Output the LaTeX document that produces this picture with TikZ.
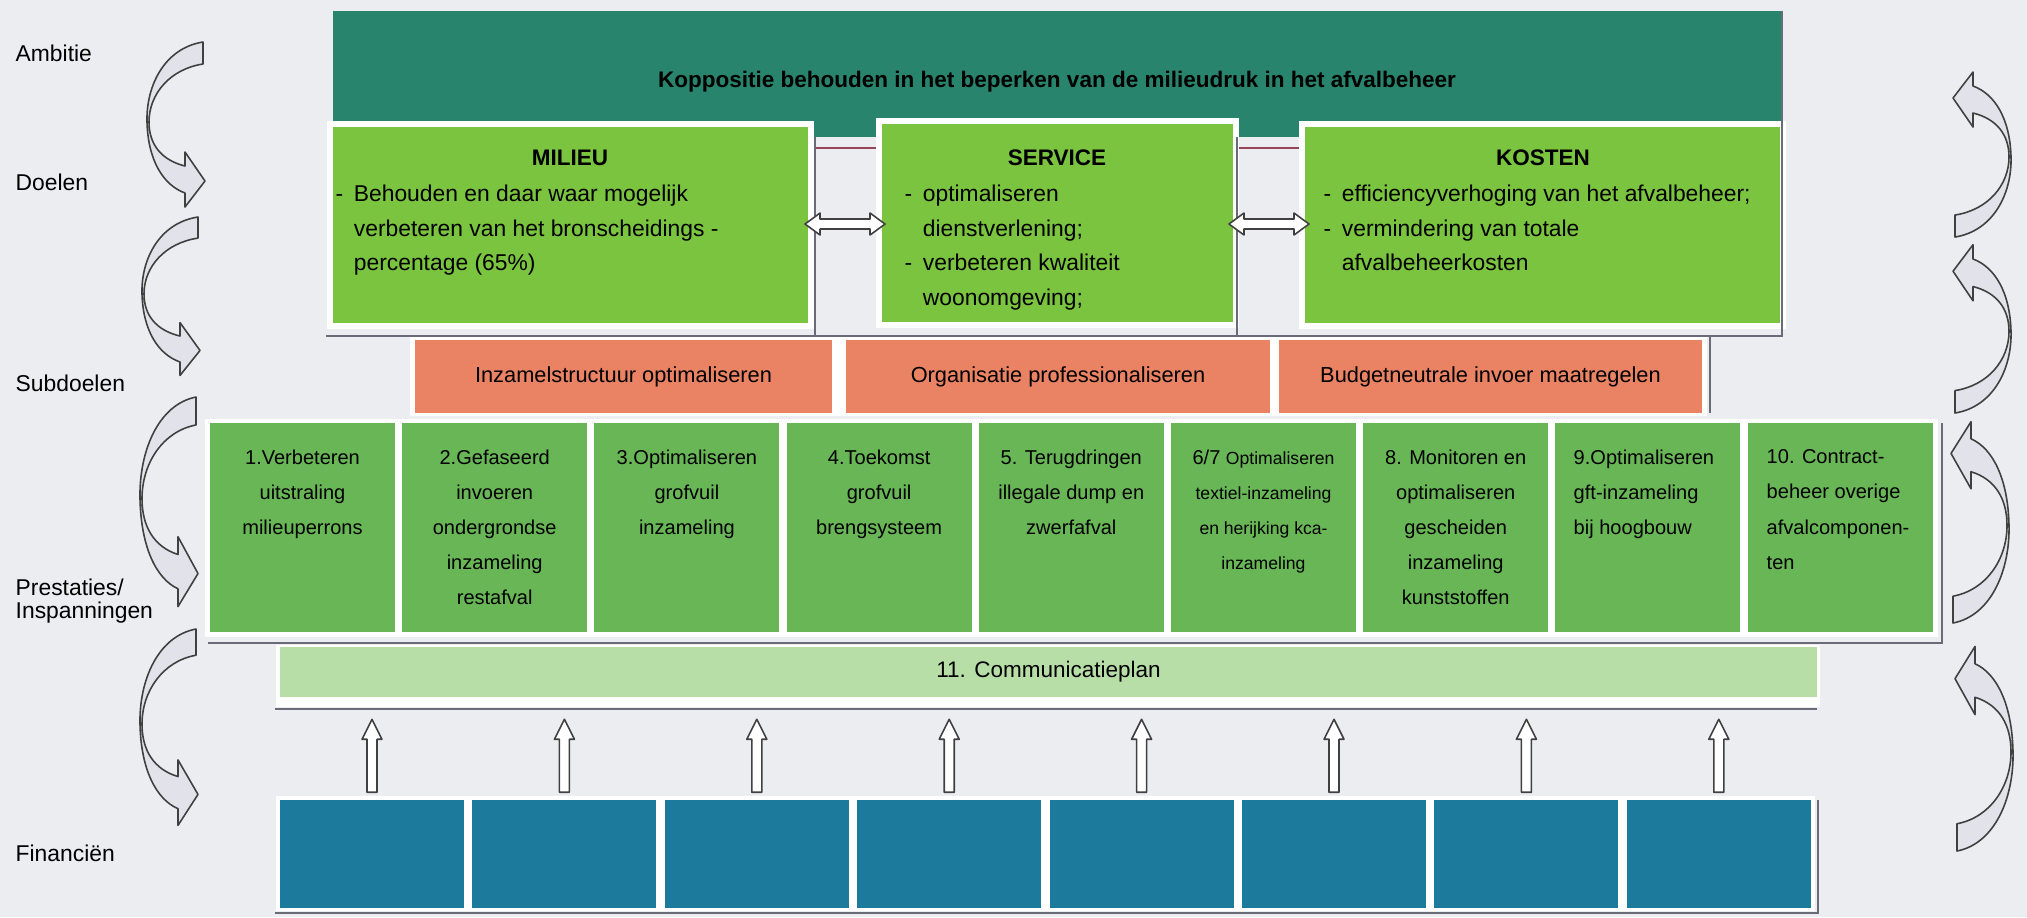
\documentclass[tikz,border=0pt]{standalone}
\usepackage{fontspec}
\setmainfont{Liberation Sans}
\usetikzlibrary{calc}

\definecolor{achtergrond}{RGB}{236,237,241}
\definecolor{ambteal}{RGB}{40,132,108}
\definecolor{doelgreen}{RGB}{122,196,64}
\definecolor{subred}{RGB}{234,130,100}
\definecolor{prestgreen}{RGB}{104,182,86}
\definecolor{commgreen}{RGB}{182,222,166}
\definecolor{finblue}{RGB}{28,122,156}
\definecolor{arrowfill}{RGB}{226,226,234}
\definecolor{framegrey}{RGB}{105,108,120}
\definecolor{maroonline}{RGB}{150,70,90}

\tikzset{
  ambbox/.style={fill=ambteal, inner sep=0pt},
  doelbox/.style={fill=doelgreen, draw=white, line width=0.06cm, inner sep=0pt},
  doeltitle/.style={inner sep=0pt, font=\bfseries\fontsize{6.4}{7}\selectfont},
  doeltext/.style={anchor=north west, inner sep=0pt, font=\fontsize{6.5}{9.8}\selectfont},
  subbox/.style={fill=subred, minimum height=0.73cm, inner sep=0pt, font=\fontsize{6.2}{7.4}\selectfont},
  prestbox/.style={fill=prestgreen, minimum width=1.85cm, minimum height=2.09cm, inner sep=0pt},
  presttext/.style={anchor=north, inner sep=0pt, align=center, font=\fontsize{5.7}{10}\selectfont},
  presttextl/.style={presttext, anchor=north west, align=left},
  commbox/.style={fill=commgreen, inner sep=0pt, font=\fontsize{6.4}{7.6}\selectfont},
  finbox/.style={fill=finblue, minimum width=1.84cm, minimum height=1.08cm, inner sep=0pt},
  sidelabel/.style={anchor=west, inner sep=0pt, align=left, font=\fontsize{6.5}{6.6}\selectfont},
  arrowline/.style={draw=black!75, fill=arrowfill, line width=0.45pt, line join=round},
  groupline/.style={draw=framegrey, line width=0.7pt},
  curvarr/.pic={
    \path[arrowline] (0,0) .. controls (-38,6) and (-57,43) .. (-56,80)
      .. controls (-55,118) and (-40,143) .. (-18,151) -- (-18,165) -- (2,139)
      -- (-18,110) -- (-18,124) .. controls (-42,118) and (-54,102) .. (-54,80)
      .. controls (-54,52) and (-33,27) .. (0,22) -- cycle;
  },
  uparr/.pic={
    \path[arrowline, fill=white] (-5,0) -- (-5,-53) -- (-10,-53) -- (0,-73)
      -- (10,-53) -- (5,-53) -- (5,0) -- cycle;
  },
  dblarr/.pic={
    \path[arrowline, fill=white] (-40,0) -- (-25,-11) -- (-25,-5) -- (25,-5)
      -- (25,-11) -- (40,0) -- (25,11) -- (25,5) -- (-25,5) -- (-25,11) -- cycle;
  }
}

\begin{document}
\begin{tikzpicture}[x=0.01cm, y=-0.01cm]
\fill[achtergrond] (0,0) rectangle (2027,917);
\useasboundingbox (0,0) rectangle (2027,917);

\fill[white] (410,336) rectangle (1707,416);
\fill[white] (205,419) rectangle (1938,637);
\fill[white] (276,645) rectangle (1820,707);
\fill[white] (276,796) rectangle (1815,911);

\node[ambbox, minimum width=14.49cm, minimum height=1.26cm] (ambitie) at (1057.5,74) {};
\node[inner sep=0pt, font=\bfseries\fontsize{6.4}{7}\selectfont] (ambtext) at (1057,82)
  {Koppositie behouden in het beperken van de milieudruk in het afvalbeheer};

\draw[maroonline, line width=0.8pt] (811,148) -- (1302,148);
\node[doelbox, minimum width=4.81cm, minimum height=2.02cm] (milieu) at (570.5,225) {};
\node[doelbox, minimum width=3.57cm, minimum height=2.04cm] (service) at (1057.5,223) {};
\node[doelbox, minimum width=4.81cm, minimum height=2.02cm] (kosten) at (1542.5,225) {};
\draw[groupline] (815,137) -- (815,336);
\draw[groupline] (1237,137) -- (1237,336);
\draw[groupline] (326,336) -- (1782,336) -- (1782,11);
\draw[groupline] (1710,336) -- (1710,413);

\node[doeltitle] (milieuT) at (570,158) {MILIEU};
\node[doeltitle] (serviceT) at (1057,158) {SERVICE};
\node[doeltitle] (kostenT) at (1543,158) {KOSTEN};
\node[doeltext] (milieuB) at (335,177) {\begin{tabular}{@{}l@{\hspace{3pt}}l@{}}
  - & Behouden en daar waar mogelijk\\
    & verbeteren van het bronscheidings -\\
    & percentage (65\%)\end{tabular}};
\node[doeltext] (serviceB) at (904,177) {\begin{tabular}{@{}l@{\hspace{3pt}}l@{}}
  - & optimaliseren\\
    & dienstverlening;\\
  - & verbeteren kwaliteit\\
    & woonomgeving;\end{tabular}};
\node[doeltext] (kostenB) at (1323,177) {\begin{tabular}{@{}l@{\hspace{3pt}}l@{}}
  - & efficiencyverhoging van het afvalbeheer;\\
  - & vermindering van totale\\
    & afvalbeheerkosten\end{tabular}};

\pic at ($(milieu.east)!.5!(service.west)$) {dblarr};
\pic at ($(service.east)!.5!(kosten.west)$) {dblarr};

\node[subbox, minimum width=4.17cm] (sub1) at (623.5,376.5) {Inzamelstructuur optimaliseren};
\node[subbox, minimum width=4.24cm] (sub2) at (1058,376.5) {Organisatie professionaliseren};
\node[subbox, minimum width=4.23cm] (sub3) at (1490.5,376.5) {Budgetneutrale invoer maatregelen};

\node[prestbox] (p1) at (302.5,527.5) {};
\node[prestbox] (p2) at (494.7,527.5) {};
\node[prestbox] (p3) at (686.9,527.5) {};
\node[prestbox] (p4) at (879.1,527.5) {};
\node[prestbox] (p5) at (1071.3,527.5) {};
\node[prestbox] (p6) at (1263.5,527.5) {};
\node[prestbox] (p8) at (1455.7,527.5) {};
\node[prestbox] (p9) at (1647.9,527.5) {};
\node[prestbox] (p10) at (1840.1,527.5) {};
\draw[groupline] (208,643) -- (1942,643) -- (1942,423);

\node[presttext] (p1t) at (302.5,449) {1.Verbeteren\\uitstraling\\milieuperrons};
\node[presttext] (p2t) at (494.7,449) {2.Gefaseerd\\invoeren\\ondergrondse\\inzameling\\restafval};
\node[presttext] (p3t) at (686.9,449) {3.Optimaliseren\\grofvuil\\inzameling};
\node[presttext] (p4t) at (879.1,449) {4.Toekomst\\grofvuil\\brengsysteem};
\node[presttext] (p5t) at (1071.3,449) {5. Terugdringen\\illegale dump en\\zwerfafval};
\node[presttext] (p6t) at (1263.5,449) {6/7 {\fontsize{5}{10}\selectfont Optimaliseren}\\
  {\fontsize{5}{10}\selectfont textiel-inzameling}\\{\fontsize{5}{10}\selectfont en herijking kca-}\\
  {\fontsize{5}{10}\selectfont inzameling}};
\node[presttext] (p8t) at (1455.7,449) {8. Monitoren en\\optimaliseren\\gescheiden\\inzameling\\kunststoffen};
\node[presttextl] (p9t) at (1573,449) {9.Optimaliseren\\gft-inzameling\\bij hoogbouw};
\node[presttextl] (p10t) at (1766,449) {10. Contract-\\beheer overige\\afvalcomponen-\\ten};

\node[commbox, minimum width=15.37cm, minimum height=0.5cm] (comm) at (1048.5,672) {11. Communicatieplan};
\draw[groupline] (275,709) -- (1817,709);

\node[finbox] (f1) at (372,854) {};
\node[finbox] (f2) at (564.4,854) {};
\node[finbox] (f3) at (756.8,854) {};
\node[finbox] (f4) at (949.2,854) {};
\node[finbox] (f5) at (1141.6,854) {};
\node[finbox] (f6) at (1334,854) {};
\node[finbox] (f7) at (1526.4,854) {};
\node[finbox] (f8) at (1718.8,854) {};
\draw[groupline] (275,913) -- (1818,913) -- (1818,800);

\pic at ($(f1.north)+(0,-7)$) {uparr};
\pic at ($(f2.north)+(0,-7)$) {uparr};
\pic at ($(f3.north)+(0,-7)$) {uparr};
\pic at ($(f4.north)+(0,-7)$) {uparr};
\pic at ($(f5.north)+(0,-7)$) {uparr};
\pic at ($(f6.north)+(0,-7)$) {uparr};
\pic at ($(f7.north)+(0,-7)$) {uparr};
\pic at ($(f8.north)+(0,-7)$) {uparr};

\pic at (203,42) {curvarr};
\pic[yscale=0.96] at (198,217) {curvarr};
\pic[yscale=1.27] at (196,397) {curvarr};
\pic[yscale=1.19] at (196,629) {curvarr};
\pic[rotate=180] at (1955,237) {curvarr};
\pic[rotate=180, yscale=1.02] at (1955,413) {curvarr};
\pic[rotate=180, yscale=1.22] at (1953,623) {curvarr};
\pic[rotate=180, yscale=1.24] at (1957,851) {curvarr};

\node[sidelabel] (lamb) at (15,53) {Ambitie};
\node[sidelabel] (ldoel) at (15,182) {Doelen};
\node[sidelabel] (lsub) at (15,383) {Subdoelen};
\node[sidelabel] (lprest) at (15,601) {Prestaties/\\Inspanningen};
\node[sidelabel] (lfin) at (15,853) {Financiën};
\end{tikzpicture}
\end{document}
